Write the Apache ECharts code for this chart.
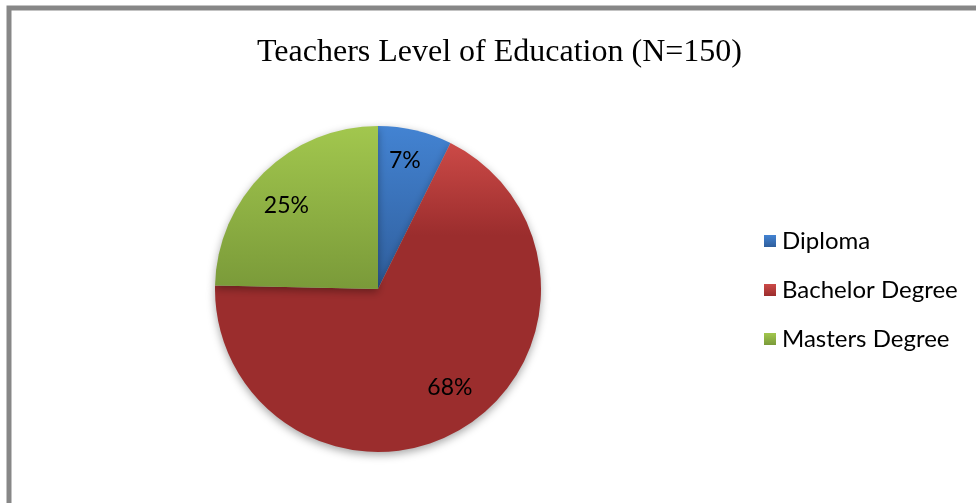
<!DOCTYPE html>
<html><head><meta charset="utf-8">
<script src="https://cdn.jsdelivr.net/npm/echarts@6/dist/echarts.min.js"></script>
<style>html,body{margin:0;padding:0;background:#fff}#c{width:976px;height:503px}</style>
</head><body><div id="c"></div>
<script>
const categories = ['Diploma', 'Bachelor Degree', 'Masters Degree'];
const counts = [11, 102, 37];
const percentLabels = ['7%', '68%', '25%'];
const titleText = 'Teachers Level of Education (N=150)';

const grads = [
  ['#4383d2', '#2f5e9c'],
  ['#cc4a47', '#9b2d2d'],
  ['#a2c74e', '#7a9a39']
];
function grad(i, mid) {
  return new echarts.graphic.LinearGradient(0, 0, 0, 1, [
    {offset: 0, color: grads[i][0]},
    {offset: mid, color: grads[i][1]},
    {offset: 1, color: grads[i][1]}
  ]);
}
const mids = [1, 0.3, 1];
const labelOffsets = [[-3, -1], [4, -13], [0, 10]];
const data = categories.map((n, i) => ({
  name: n, value: counts[i],
  itemStyle: {color: grad(i, mids[i])}
}));
const labelData = categories.map((n, i) => ({
  name: n, value: counts[i], label: {formatter: percentLabels[i], offset: labelOffsets[i]}
}));

const chart = echarts.init(document.getElementById('c'));
chart.setOption({
  animation: false,
  title: {
    text: titleText, left: 252, top: 32,
    textStyle: {fontFamily: 'Liberation Serif', fontSize: 32, fontWeight: 'normal', color: '#000'}
  },
  legend: {
    orient: 'vertical', left: 759, top: 224,
    itemWidth: 12, itemHeight: 12, itemGap: 25, icon: 'rect',
    data: categories.map((n, i) => ({name: n, itemStyle: {color: grad(i, 1)}})),
    textStyle: {fontFamily: 'Lato', fontSize: 24, color: '#000', padding: [0, 0, 0, 1]}
  },
  graphic: [{
    type: 'rect', shape: {x: 9, y: 8, width: 1100, height: 700},
    style: {fill: 'none', stroke: '#878787', lineWidth: 5}, silent: true
  }],
  series: [{
    type: 'pie', center: [378, 289], radius: [0, 163],
    startAngle: 90, clockwise: true, data: data,
    label: {show: false}, labelLine: {show: false},
    itemStyle: {shadowBlur: 8, shadowOffsetY: 3, shadowColor: 'rgba(0,0,0,0.35)'},
    emphasis: {disabled: true}
  }, {
    type: 'pie', center: [378, 289], radius: [0, 256],
    startAngle: 90, clockwise: true, data: labelData, silent: true,
    itemStyle: {color: 'rgba(0,0,0,0)'},
    label: {show: true, position: 'inside', fontFamily: 'Lato', fontSize: 23, color: '#000'},
    labelLine: {show: false}, emphasis: {disabled: true}
  }]
});
</script></body></html>
